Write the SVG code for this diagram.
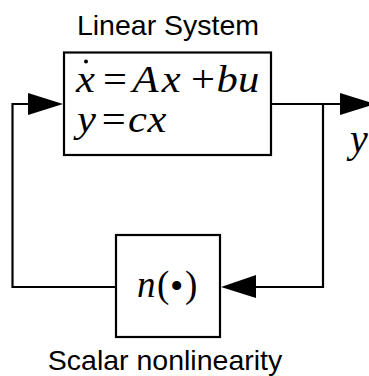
<svg xmlns="http://www.w3.org/2000/svg" width="369" height="376" viewBox="0 0 369 376">
<style>
.box{fill:#fff;stroke:#000;stroke-width:2.2}
.wire{fill:none;stroke:#000;stroke-width:2.2}
.head{fill:#000;stroke:none}
.lbl{font-family:"Liberation Sans",Arial,sans-serif;font-size:28.5px;fill:#000;text-anchor:middle}
.m{font-family:"Liberation Serif","Times New Roman",serif;font-size:37px;fill:#000}
.i{font-style:italic}
</style>
<rect width="369" height="376" fill="#fff"/>
<g id="connectors">
<path class="wire" d="M116,287 H12.5 V104 H30"/>
<polygon class="head" points="28,93 63,104 28,115"/>
<path class="wire" d="M271,104 H342"/>
<polygon class="head" points="340,93 375,104 340,115"/>
<path class="wire" d="M323,104 V287 H254"/>
<polygon class="head" points="256,275 221,287 256,298"/>
</g>
<g id="linear-system">
<rect class="box" x="64" y="52.5" width="207" height="102.5"/>
<text class="lbl" x="168" y="35">Linear System</text>
<circle cx="86" cy="61.5" r="2"/>
<text class="m" transform="scale(1.15 1)" y="92"><tspan class="i" x="66.1">x</tspan><tspan x="89.6">=</tspan><tspan class="i" x="115.3">A</tspan><tspan class="i" x="140.6">x</tspan><tspan x="166">+</tspan><tspan class="i" x="188.3">b</tspan><tspan class="i" x="207">u</tspan></text>
<text class="m" transform="scale(1.15 1)" y="132"><tspan class="i" x="67">y</tspan><tspan x="88.5">=</tspan><tspan class="i" x="111.3">c</tspan><tspan class="i" x="128.3">x</tspan></text>
</g>
<g id="nonlinearity">
<rect class="box" x="116" y="235" width="104" height="102"/>
<text class="m" y="297"><tspan class="i" x="137">n</tspan><tspan x="157">(</tspan><tspan x="170" y="299" style="font-size:38px">•</tspan><tspan x="185" y="297">)</tspan></text>
<text class="lbl" x="165" y="370">Scalar nonlinearity</text>
</g>
<g id="output-label">
<text class="m i" x="350" y="152" style="font-size:40px">y</text>
</g>
</svg>
